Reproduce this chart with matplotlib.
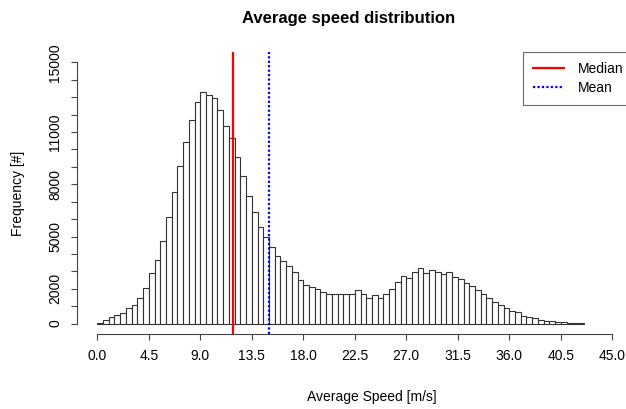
import numpy as np
import matplotlib
matplotlib.use('Agg')
import matplotlib.pyplot as plt

plt.rcParams['font.family'] = ['Liberation Sans', 'DejaVu Sans']

# histogram of average speed, bins of 0.5 m/s starting at 0
bin_width = 0.5
counts = [30, 210, 370, 480, 630, 880, 1060, 1480, 2030, 2910,
          3640, 4750, 6130, 7550, 9040, 10440, 11710, 12720, 13280, 13120,
          12950, 12240, 11340, 10650, 9540, 8470, 7320, 6420, 5540, 4980,
          4400, 3900, 3600, 3280, 2960, 2530, 2220, 2090, 1960, 1820,
          1670, 1700, 1700, 1700, 1700, 1950, 1680, 1480, 1630, 1490,
          1720, 1980, 2370, 2720, 2640, 2990, 3220, 2900, 3100, 2970,
          2860, 2990, 2650, 2580, 2340, 2180, 1920, 1690, 1490, 1260,
          1060, 880, 710, 650, 430, 390, 310, 230, 170, 140,
          100, 75, 57, 57, 40]
bin_left = np.arange(len(counts)) * bin_width

median_speed = 11.85
mean_speed = 15.03

x_ticks = np.arange(0, 45.1, 4.5)
y_ticks = np.arange(0, 15001, 1000)
y_shown = [0, 2000, 5000, 8000, 11000, 15000]

W, H = 626, 409
fig = plt.figure(figsize=(W / 100, H / 100), dpi=100)
# plot region in pixels (R style: 4% padding around xlim/ylim)
left, right, top, bottom = 76.7, 632.9, 52, 334
ax = fig.add_axes([left / W, 1 - bottom / H, (right - left) / W, (bottom - top) / H])

ax.bar(bin_left, counts, width=bin_width, align='edge', facecolor='white',
       edgecolor='#333333', linewidth=0.8)
ax.axvline(median_speed, color='red', lw=1.6, label='Median')
ax.axvline(mean_speed, color='blue', lw=1.6, ls=(0, (1, 1)), label='Mean')

ax.set_xlim(-1.8, 46.8)
ax.set_ylim(-600, 15600)

for s in ['top', 'right']:
    ax.spines[s].set_visible(False)
ax.spines['bottom'].set_bounds(0, 45)
ax.spines['left'].set_bounds(0, 15000)
for s in ['bottom', 'left']:
    ax.spines[s].set_color('#444444')
    ax.spines[s].set_linewidth(0.8)

ax.set_xticks(x_ticks)
ax.set_xticklabels(['%.1f' % v for v in x_ticks])
ax.set_yticks(y_ticks)
ax.set_yticklabels([str(v) if v in y_shown else '' for v in y_ticks])
ax.tick_params(axis='both', length=4.5, width=0.8, color='#444444',
               labelsize=10, labelcolor='black')
ax.tick_params(axis='x', pad=6)
ax.tick_params(axis='y', pad=6)
for lab in ax.get_yticklabels():
    lab.set_rotation(90)
    lab.set_va('center')

leg = ax.legend(loc='upper right', bbox_to_anchor=(1, 1), borderaxespad=0,
                fancybox=False, edgecolor='#444444', fontsize=10,
                handlelength=2.2, handletextpad=1.0, labelspacing=0.4,
                borderpad=0.7)
leg.get_frame().set_linewidth(0.8)

fig.text(349 / W, 1 - 18 / H, 'Average speed distribution', ha='center',
         va='center', fontsize=12, fontweight='bold')
fig.text(372 / W, 1 - 397 / H, 'Average Speed [m/s]', ha='center',
         va='center', fontsize=10)
fig.text(18 / W, 1 - 193 / H, 'Frequency [#]', ha='center', va='center',
         rotation=90, fontsize=10)

fig.savefig('out.png', dpi=100)
